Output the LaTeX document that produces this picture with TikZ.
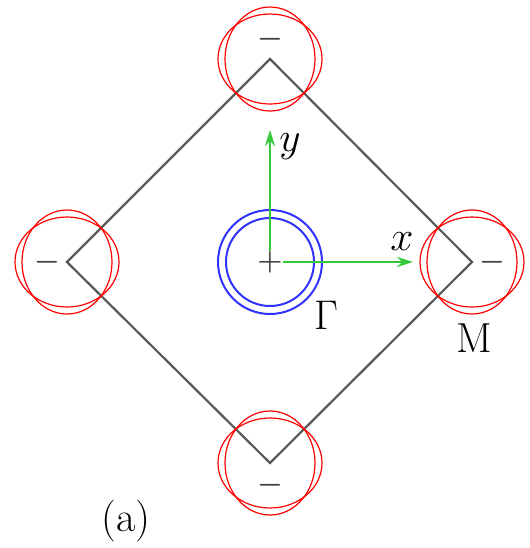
\documentclass[tikz,border=0pt]{standalone}
\usepackage{tikz}
\usetikzlibrary{arrows.meta, positioning}
\definecolor{axgreen}{RGB}{55,200,55}
\definecolor{ringblue}{RGB}{50,50,255}

\begin{document}
\begin{tikzpicture}[x=0.5pt, y=-0.5pt,
    edge/.style={draw=black!65, line width=1.1pt},
    pocket/.style={draw=red, line width=0.6pt},
    ring/.style={draw=ringblue, line width=1pt},
    axis/.style={draw=axgreen, line width=1.3pt, -{Stealth[length=8pt, width=5pt]}},
    sign/.style={text=black!75, inner sep=0pt, font=\fontsize{14}{14}\selectfont\boldmath},
    lbl/.style={inner sep=0pt, font=\fontsize{21}{21}\selectfont}]
    \useasboundingbox (0,0) rectangle (530,548);
    % zone corners
    \coordinate (G) at (270,262);
    \coordinate (top) at (270,59);
    \coordinate (rt) at (472,262);
    \coordinate (bot) at (270,463);
    \coordinate (lt) at (67,262);
    \draw[edge] (top) -- (rt) -- (bot) -- (lt) -- cycle;
    % electron pockets at M
    \foreach \c in {top, rt, bot, lt} {
      \draw[pocket] (\c) ellipse [x radius=52, y radius=45];
      \draw[pocket] (\c) ellipse [x radius=45, y radius=52];
    }
    % hole pocket at Gamma
    \draw[ring] (G) circle [radius=52];
    \draw[ring] (G) circle [radius=44];
    \node[sign] (plus) at (G) {$+$};
    \node[sign] (mtop) at (270,39) {$-$};
    \node[sign] (mrt) at (492,262) {$-$};
    \node[sign] (mbot) at (270,485) {$-$};
    \node[sign] (mlt) at (47,262) {$-$};
    % axes
    \coordinate (yend) at (270,130);
    \coordinate (xend) at (413,262);
    \draw[axis] (plus) -- (yend);
    \draw[axis] (plus) -- (xend);
    \node[lbl] (ylab) at (290,147) {$y$};
    \node[lbl] (xlab) at (402,242) {$x$};
    \node[lbl] (gam) at (326,315) {$\Gamma$};
    \node[lbl] (mlab) at (474,338) {M};
    \node[lbl] (panel) at (126,521) {(a)};
\end{tikzpicture}
\end{document}
